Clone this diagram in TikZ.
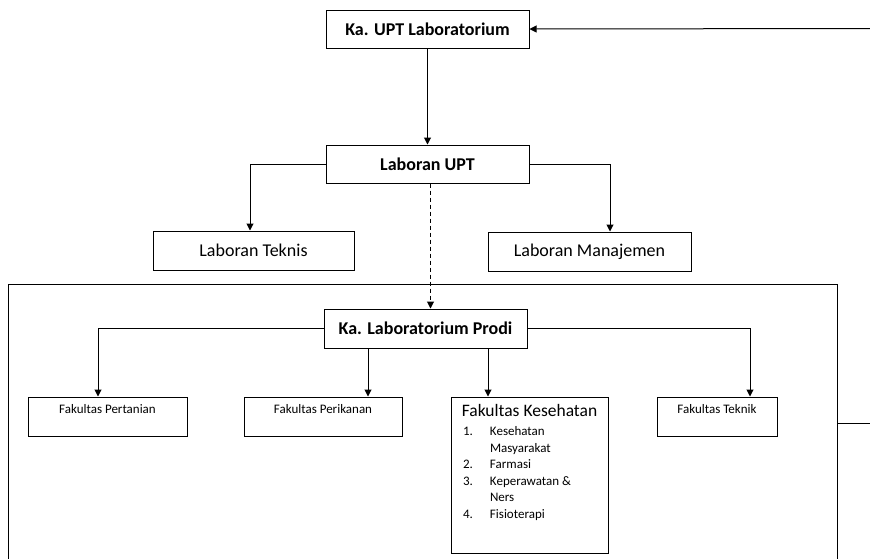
\documentclass[tikz,border=0pt]{standalone}
\usepackage{fontspec}
\setmainfont{Carlito}
\usetikzlibrary{arrows.meta}
\newcommand{\boxline}{1pt}

\begin{document}
\begin{tikzpicture}[x=1pt,y=-1pt,
    arr/.style={-{Triangle[length=7pt,width=7pt]},line width=\boxline},
    big/.style={minimum width=203pt,minimum height=38pt,font=\fontsize{18}{21}\selectfont},
    fak/.style={minimum width=158pt,minimum height=39pt,text height=11pt,text depth=18pt,font=\fontsize{13}{15}\selectfont}]
                \useasboundingbox (0,0) rectangle (870,558);
                \clip (0,0) rectangle (870,558);
                \begin{scope}[every node/.style={rectangle,draw,line width=\boxline,inner sep=0pt}]
                    \node[big,font=\fontsize{18}{21}\selectfont\bfseries] (kaupt) at (427.5,29) {Ka. UPT Laboratorium};
                    \node[big,font=\fontsize{18}{21}\selectfont\bfseries] (labupt) at (427.5,164) {Laboran UPT};
                    \node[big,minimum width=201pt,minimum height=39pt] (teknis) at (253.5,250.5) {Laboran Teknis};
                    \node[big,minimum height=39pt] (labman) at (589.5,251.5) {Laboran Manajemen};
                    \node[minimum width=829pt,minimum height=340pt] (frame) at (422.5,454) {};
                    \node[big,minimum height=39pt,font=\fontsize{18}{21}\selectfont\bfseries] (kaprodi) at (425.5,328.5) {Ka. Laboratorium Prodi};
                    \node[fak,minimum width=159pt] (pertanian) at (107.5,416.5) {Fakultas Pertanian};
                    \node[fak] (perikanan) at (323,416.5) {Fakultas Perikanan};
                    \node[fak,minimum width=120pt] (fteknik) at (717,416.5) {Fakultas Teknik};
                    \node (kesehatan) at (529.5,475) {\parbox[c][156pt][t]{157pt}{\vspace{7pt}\centering
                        \fontsize{17.5}{20}\selectfont Fakultas Kesehatan\par\vspace{3pt}
                        \raggedright\fontsize{13}{16.5}\selectfont
                        \hspace*{12pt}\makebox[27pt][l]{1.}Kesehatan\par
                        \hspace*{39pt}Masyarakat\par
                        \hspace*{12pt}\makebox[27pt][l]{2.}Farmasi\par
                        \hspace*{12pt}\makebox[27pt][l]{3.}Keperawatan \&\par
                        \hspace*{39pt}Ners\par
                        \hspace*{12pt}\makebox[27pt][l]{4.}Fisioterapi\par}};
                \end{scope}

                % where the arrows land
                \coordinate (tTek) at ([xshift=-3.5pt]teknis.north);
                \coordinate (tMan) at ([xshift=20.5pt]labman.north);
                \coordinate (tPer) at ([xshift=-9.5pt]pertanian.north);
                \coordinate (tIkn) at ([xshift=45pt]perikanan.north);
                \coordinate (tKes) at ([xshift=-41.5pt]kesehatan.north);
                \coordinate (tTkn) at ([xshift=33pt]fteknik.north);
                \coordinate (fbIn) at (870,28.5);
                \coordinate (fbOut) at (870,423);

                \draw[arr] (kaupt) -- (labupt);
                \draw[arr] (labupt.west) -| (tTek);
                \draw[arr] (labupt.east) -| (tMan);
                \draw[arr,dash pattern=on 4pt off 3pt] ([xshift=3pt]labupt.south) -- ([xshift=3pt]labupt.south |- kaprodi.north);
                \draw[arr] (kaprodi.west) -| (tPer);
                \draw[arr] (kaprodi.east) -| (tTkn);
                \draw[arr] (tIkn |- kaprodi.south) -- (tIkn);
                \draw[arr] (tKes |- kaprodi.south) -- (tKes);
                \draw[line width=\boxline] (fbOut -| frame.east) -- (fbOut);
                \draw[arr] (fbIn) -- (kaupt.east);
            \end{tikzpicture}
\end{document}
